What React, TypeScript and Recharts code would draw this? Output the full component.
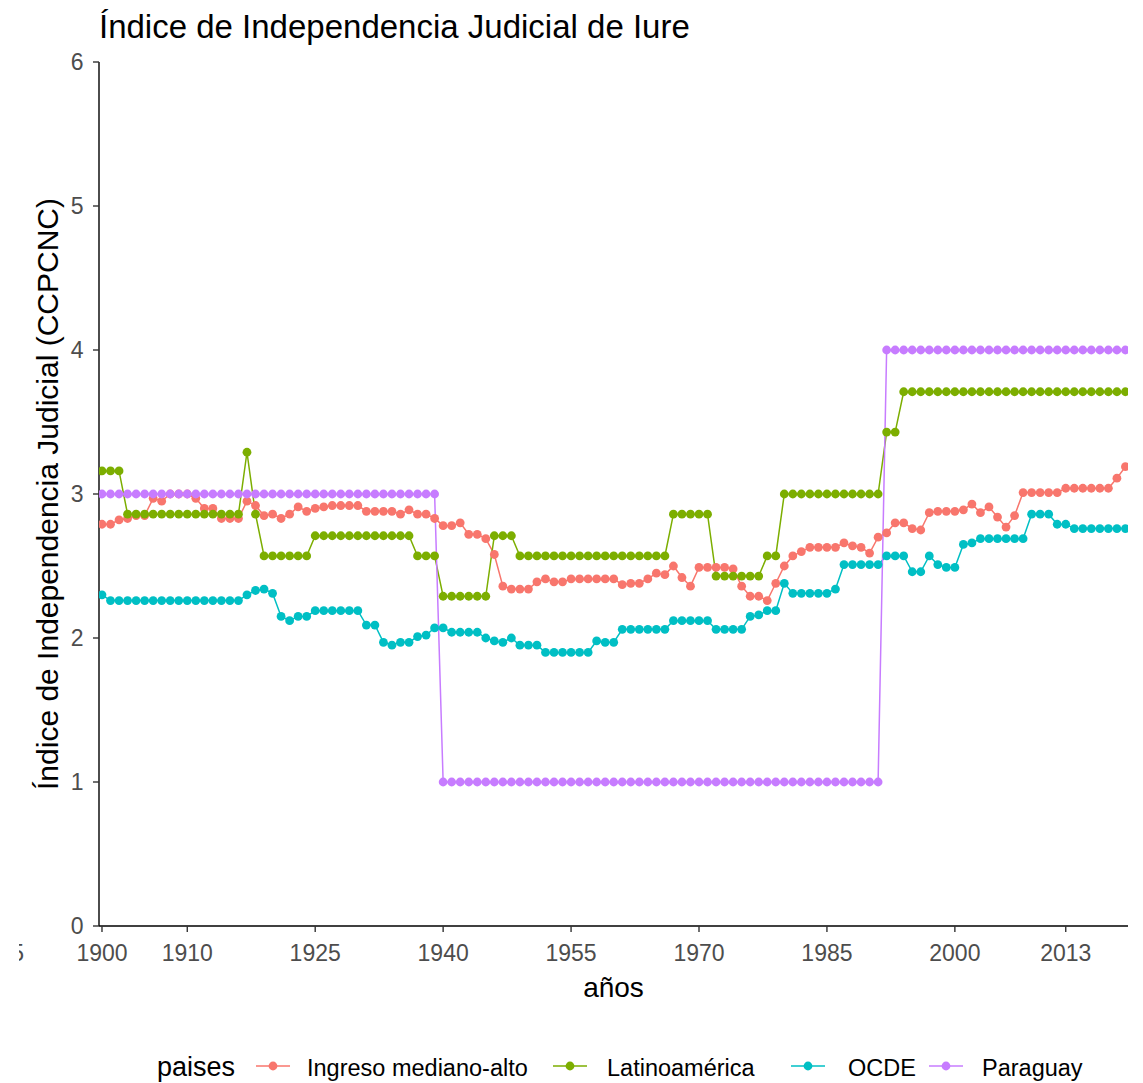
import { LineChart, Line, XAxis, YAxis } from 'recharts'

const years = [
  1900, 1901, 1902, 1903, 1904, 1905, 1906, 1907, 1908, 1909,
  1910, 1911, 1912, 1913, 1914, 1915, 1916, 1917, 1918, 1919,
  1920, 1921, 1922, 1923, 1924, 1925, 1926, 1927, 1928, 1929,
  1930, 1931, 1932, 1933, 1934, 1935, 1936, 1937, 1938, 1939,
  1940, 1941, 1942, 1943, 1944, 1945, 1946, 1947, 1948, 1949,
  1950, 1951, 1952, 1953, 1954, 1955, 1956, 1957, 1958, 1959,
  1960, 1961, 1962, 1963, 1964, 1965, 1966, 1967, 1968, 1969,
  1970, 1971, 1972, 1973, 1974, 1975, 1976, 1977, 1978, 1979,
  1980, 1981, 1982, 1983, 1984, 1985, 1986, 1987, 1988, 1989,
  1990, 1991, 1992, 1993, 1994, 1995, 1996, 1997, 1998, 1999,
  2000, 2001, 2002, 2003, 2004, 2005, 2006, 2007, 2008, 2009,
  2010, 2011, 2012, 2013, 2014, 2015, 2016, 2017, 2018, 2019,
  2020,
]

const ingreso = [
  2.79, 2.79, 2.82, 2.83, 2.85, 2.85, 2.97, 2.95, 3.0, 3.0,
  3.0, 2.97, 2.9, 2.9, 2.83, 2.83, 2.83, 2.95, 2.92, 2.85,
  2.86, 2.83, 2.86, 2.91, 2.88, 2.9, 2.91, 2.92, 2.92, 2.92,
  2.92, 2.88, 2.88, 2.88, 2.88, 2.86, 2.89, 2.86, 2.86, 2.83,
  2.78, 2.78, 2.8, 2.72, 2.72, 2.69, 2.58, 2.36, 2.34, 2.34,
  2.34, 2.39, 2.41, 2.39, 2.39, 2.41, 2.41, 2.41, 2.41, 2.41,
  2.41, 2.37, 2.38, 2.38, 2.41, 2.45, 2.44, 2.5, 2.42, 2.36,
  2.49, 2.49, 2.49, 2.49, 2.48, 2.36, 2.29, 2.29, 2.26, 2.38,
  2.5, 2.57, 2.6, 2.63, 2.63, 2.63, 2.63, 2.66, 2.64, 2.63,
  2.59, 2.7, 2.73, 2.8, 2.8, 2.76, 2.75, 2.87, 2.88, 2.88,
  2.88, 2.89, 2.93, 2.87, 2.91, 2.84, 2.77, 2.85, 3.01, 3.01,
  3.01, 3.01, 3.01, 3.04, 3.04, 3.04, 3.04, 3.04, 3.04, 3.11,
  3.19,
]

const latam = [
  3.16, 3.16, 3.16, 2.86, 2.86, 2.86, 2.86, 2.86, 2.86, 2.86,
  2.86, 2.86, 2.86, 2.86, 2.86, 2.86, 2.86, 3.29, 2.86, 2.57,
  2.57, 2.57, 2.57, 2.57, 2.57, 2.71, 2.71, 2.71, 2.71, 2.71,
  2.71, 2.71, 2.71, 2.71, 2.71, 2.71, 2.71, 2.57, 2.57, 2.57,
  2.29, 2.29, 2.29, 2.29, 2.29, 2.29, 2.71, 2.71, 2.71, 2.57,
  2.57, 2.57, 2.57, 2.57, 2.57, 2.57, 2.57, 2.57, 2.57, 2.57,
  2.57, 2.57, 2.57, 2.57, 2.57, 2.57, 2.57, 2.86, 2.86, 2.86,
  2.86, 2.86, 2.43, 2.43, 2.43, 2.43, 2.43, 2.43, 2.57, 2.57,
  3.0, 3.0, 3.0, 3.0, 3.0, 3.0, 3.0, 3.0, 3.0, 3.0,
  3.0, 3.0, 3.43, 3.43, 3.71, 3.71, 3.71, 3.71, 3.71, 3.71,
  3.71, 3.71, 3.71, 3.71, 3.71, 3.71, 3.71, 3.71, 3.71, 3.71,
  3.71, 3.71, 3.71, 3.71, 3.71, 3.71, 3.71, 3.71, 3.71, 3.71,
  3.71,
]

const ocde = [
  2.3, 2.26, 2.26, 2.26, 2.26, 2.26, 2.26, 2.26, 2.26, 2.26,
  2.26, 2.26, 2.26, 2.26, 2.26, 2.26, 2.26, 2.3, 2.33, 2.34,
  2.31, 2.15, 2.12, 2.15, 2.15, 2.19, 2.19, 2.19, 2.19, 2.19,
  2.19, 2.09, 2.09, 1.97, 1.95, 1.97, 1.97, 2.01, 2.02, 2.07,
  2.07, 2.04, 2.04, 2.04, 2.04, 2.0, 1.98, 1.97, 2.0, 1.95,
  1.95, 1.95, 1.9, 1.9, 1.9, 1.9, 1.9, 1.9, 1.98, 1.97,
  1.97, 2.06, 2.06, 2.06, 2.06, 2.06, 2.06, 2.12, 2.12, 2.12,
  2.12, 2.12, 2.06, 2.06, 2.06, 2.06, 2.15, 2.16, 2.19, 2.19,
  2.38, 2.31, 2.31, 2.31, 2.31, 2.31, 2.34, 2.51, 2.51, 2.51,
  2.51, 2.51, 2.57, 2.57, 2.57, 2.46, 2.46, 2.57, 2.51, 2.49,
  2.49, 2.65, 2.66, 2.69, 2.69, 2.69, 2.69, 2.69, 2.69, 2.86,
  2.86, 2.86, 2.79, 2.79, 2.76, 2.76, 2.76, 2.76, 2.76, 2.76,
  2.76,
]

const paraguay = [
  3, 3, 3, 3, 3, 3, 3, 3, 3, 3,
  3, 3, 3, 3, 3, 3, 3, 3, 3, 3,
  3, 3, 3, 3, 3, 3, 3, 3, 3, 3,
  3, 3, 3, 3, 3, 3, 3, 3, 3, 3,
  1, 1, 1, 1, 1, 1, 1, 1, 1, 1,
  1, 1, 1, 1, 1, 1, 1, 1, 1, 1,
  1, 1, 1, 1, 1, 1, 1, 1, 1, 1,
  1, 1, 1, 1, 1, 1, 1, 1, 1, 1,
  1, 1, 1, 1, 1, 1, 1, 1, 1, 1,
  1, 1, 4, 4, 4, 4, 4, 4, 4, 4,
  4, 4, 4, 4, 4, 4, 4, 4, 4, 4,
  4, 4, 4, 4, 4, 4, 4, 4, 4, 4,
  4,
]

const xTicks = [1900, 1910, 1925, 1940, 1955, 1970, 1985, 2000, 2013]
const yTicks = [0, 1, 2, 3, 4, 5, 6]

const series = [
  { key: 'ingreso', name: 'Ingreso mediano-alto', color: '#F8766D' },
  { key: 'latam', name: 'Latinoamérica', color: '#7CAE00' },
  { key: 'ocde', name: 'OCDE', color: '#00BFC4' },
  { key: 'paraguay', name: 'Paraguay', color: '#C77CFF' },
]

// legend layout (key centre, label start)
const legendPos = [
  { key: 273, text: 307 },
  { key: 570, text: 607 },
  { key: 808, text: 848 },
  { key: 946, text: 982 },
]

const FONT = '"Liberation Sans", Arial, sans-serif'
const W = 1143
const H = 1083

export default function App() {
  const data = years.map((year, i) => ({
    year,
    ingreso: ingreso[i],
    latam: latam[i],
    ocde: ocde[i],
    paraguay: paraguay[i],
  }))

  return (
    <div style={{ position: 'absolute', left: 0, top: 0, width: W, height: H, background: '#fff' }}>
      <LineChart
        width={W}
        height={H}
        data={data}
        margin={{ top: 62, right: 15, left: 0, bottom: 97 }}
      >
        <XAxis
          dataKey="year"
          type="number"
          domain={[1899.65, 2020.3]}
          allowDataOverflow
          ticks={xTicks}
          interval={0}
          height={60}
          tickSize={6}
          tickMargin={12.5}
          axisLine={{ stroke: '#000', strokeWidth: 1.4 }}
          tickLine={{ stroke: '#333', strokeWidth: 1.4 }}
          tick={{ fill: '#4d4d4d', fontSize: 23, fontFamily: FONT }}
        />
        <YAxis
          type="number"
          domain={[0, 6]}
          ticks={yTicks}
          interval={0}
          width={99}
          tickSize={6}
          tickMargin={9.5}
          axisLine={{ stroke: '#000', strokeWidth: 1.4 }}
          tickLine={{ stroke: '#333', strokeWidth: 1.4 }}
          tick={{ fill: '#4d4d4d', fontSize: 23, fontFamily: FONT }}
        />
        {series.map((s) => (
          <Line
            key={s.key}
            dataKey={s.key}
            name={s.name}
            type="linear"
            stroke={s.color}
            strokeWidth={1.5}
            dot={{ r: 4.4, fill: s.color, stroke: s.color, strokeWidth: 0 }}
            activeDot={false}
            isAnimationActive={false}
          />
        ))}
      </LineChart>

      <svg
        width={W}
        height={H}
        style={{ position: 'absolute', left: 0, top: 0, pointerEvents: 'none' }}
        fontFamily={FONT}
      >
        <defs>
          <clipPath id="cut5">
            <rect x={19} y={930} width={20} height={40} />
          </clipPath>
        </defs>
        <text x={99} y={38} fontSize={33} fill="#000">
          Índice de Independencia Judicial de Iure
        </text>
        <text x={24} y={961} fontSize={23} fill="#4d4d4d" textAnchor="end" clipPath="url(#cut5)">
          5
        </text>
        <text x={613.5} y={997} fontSize={28} fill="#000" textAnchor="middle">
          años
        </text>
        <text
          x={0}
          y={0}
          fontSize={30}
          fill="#000"
          textAnchor="middle"
          transform="translate(58 494) rotate(-90)"
        >
          Índice de Independencia Judicial (CCPCNC)
        </text>
        <text x={157} y={1076} fontSize={27} fill="#000">
          paises
        </text>
        {series.map((s, i) => (
          <g key={s.key}>
            <line
              x1={legendPos[i].key - 17}
              x2={legendPos[i].key + 17}
              y1={1066}
              y2={1066}
              stroke={s.color}
              strokeWidth={1.5}
            />
            <circle cx={legendPos[i].key} cy={1066} r={4.4} fill={s.color} />
            <text x={legendPos[i].text} y={1076} fontSize={23.5} fill="#000">
              {s.name}
            </text>
          </g>
        ))}
      </svg>
    </div>
  )
}
